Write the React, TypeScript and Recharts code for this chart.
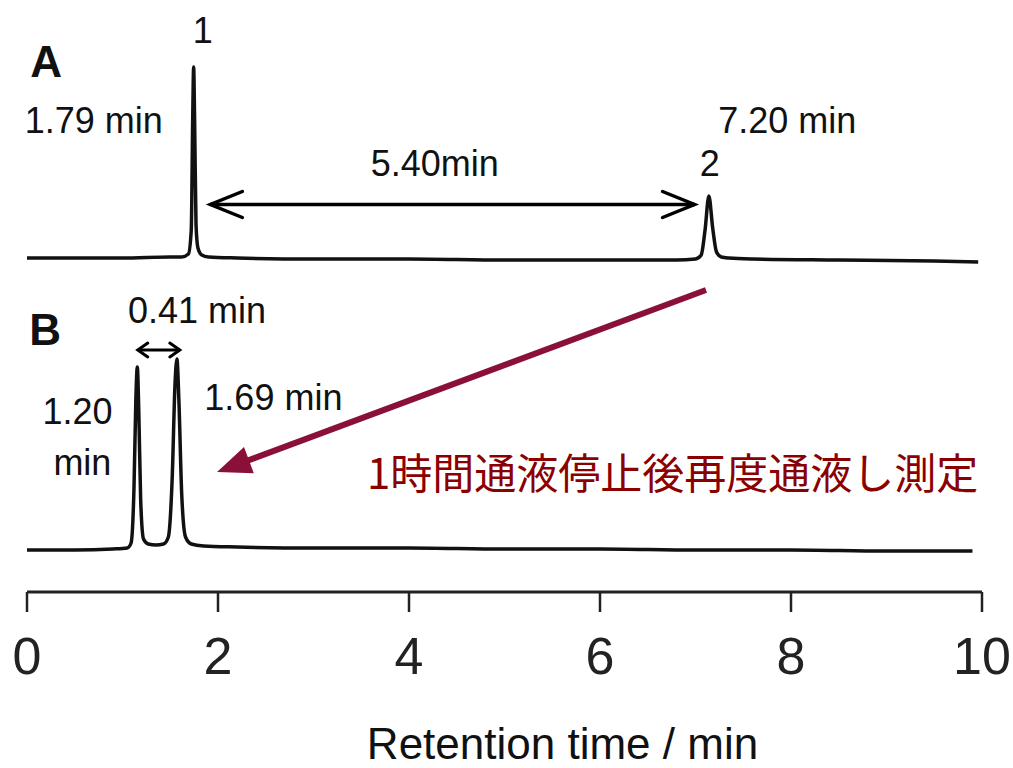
import { LineChart, Line, XAxis, YAxis, ReferenceLine, ReferenceDot, Label } from 'recharts';

// trace A (top chromatogram), signal above its own baseline
const timeA = [0, 0.5, 1.0, 1.5, 1.62, 1.69, 1.72, 1.735, 1.745, 1.755, 1.77, 1.79, 1.83, 1.9, 2.2, 3, 4, 5, 6, 6.8, 7.0, 7.06, 7.1, 7.14, 7.18, 7.22, 7.27, 7.35, 7.6, 8.5, 9.5, 9.96];
const signalA = [2, 2, 2, 3, 3, 6, 30, 140, 193, 140, 35, 12, 5, 3, 2, 1, 1, 0, 0, 0, 1, 5, 30, 64, 32, 8, 3, 2, 1, 0, -1, -2];

// trace B (bottom chromatogram)
const timeB = [0, 0.5, 0.9, 1.05, 1.09, 1.12, 1.14, 1.155, 1.17, 1.19, 1.22, 1.27, 1.35, 1.43, 1.48, 1.52, 1.55, 1.57, 1.59, 1.62, 1.66, 1.72, 1.85, 2.2, 3, 4, 5, 6, 7, 8, 9, 9.9];
const signalB = [-1, -1, 0, 1, 6, 60, 150, 182, 140, 50, 10, 5, 4, 5, 12, 70, 165, 190, 150, 55, 12, 5, 3, 2, 1, 1, 0, 0, -1, -1, -2, -2];

// vertical stacking of the two traces
const offsetA = 332;
const offsetB = 43;

const xTicks = [0, 2, 4, 6, 8, 10];

// annotations: [text, time, level, size, bold]
const notes: [string, number, number, number, boolean][] = [
  ['A', 0.2, 515, 44, true],
  ['1', 1.84, 549, 36, false],
  ['1.79 min', 0.7, 459, 36, false],
  ['5.40min', 4.27, 416, 36, false],
  ['7.20 min', 7.96, 459, 36, false],
  ['2', 7.15, 416, 36, false],
  ['B', 0.19, 247, 44, true],
  ['0.41 min', 1.78, 269, 36, false],
  ['1.20', 0.53, 168, 36, false],
  ['min', 0.58, 117, 36, false],
  ['1.69 min', 2.58, 182, 36, false],
];
const remark = '1時間通液停止後再度通液し測定';
const remarkPos = { t: 6.76, v: 103 };

// arrows: [fromTime, fromLevel, toTime, toLevel]
const gapArrowA = [1.92, 387.5, 6.99, 387.5];
const gapArrowB = [1.16, 242, 1.6, 242];
const moveArrow = [7.11, 302, 1.99, 120];

const dataA = timeA.map((t, i) => ({ t, v: signalA[i] + offsetA }));
const dataB = timeB.map((t, i) => ({ t, v: signalB[i] + offsetB }));

const FONT = "'Liberation Sans', Arial, sans-serif";

const doubleArrow = (head: number, spread: number, width: number) => (props: any) => {
  const { x1, y1, x2, y2 } = props;
  return (
    <g>
      <line x1={x1} y1={y1} x2={x2} y2={y2} stroke="#000" strokeWidth={width} />
      <polyline
        points={`${x1 + head},${y1 - spread} ${x1},${y1} ${x1 + head},${y1 + spread}`}
        fill="none" stroke="#000" strokeWidth={width} strokeLinecap="round"
      />
      <polyline
        points={`${x2 - head},${y2 - spread} ${x2},${y2} ${x2 - head},${y2 + spread}`}
        fill="none" stroke="#000" strokeWidth={width} strokeLinecap="round"
      />
    </g>
  );
};

const solidArrow = (props: any) => {
  const { x1, y1, x2, y2 } = props;
  const len = Math.hypot(x2 - x1, y2 - y1);
  const ux = (x2 - x1) / len;
  const uy = (y2 - y1) / len;
  const L = 34;
  const W = 14;
  const bx = x2 - ux * L;
  const by = y2 - uy * L;
  return (
    <g>
      <line x1={x1} y1={y1} x2={bx + ux * 2} y2={by + uy * 2} stroke="#8a1038" strokeWidth={6} />
      <polygon
        points={`${x2},${y2} ${bx - uy * W},${by + ux * W} ${bx + uy * W},${by - ux * W}`}
        fill="#8a1038"
      />
    </g>
  );
};

const textAt = (text: string, size: number, bold: boolean, fill = '#111', family = FONT) => (props: any) => {
  const vb = props.viewBox;
  return (
    <text x={vb.x + vb.width / 2} y={vb.y + vb.height / 2} textAnchor="middle" fontSize={size}
      fontWeight={bold ? 'bold' : 'normal'} fill={fill} fontFamily={family}>
      {text}
    </text>
  );
};

export default function App() {
  return (
    <div style={{ position: 'absolute', left: 0, top: 0, background: '#fff' }}>
      <LineChart width={1013} height={768} margin={{ top: 12, right: 31, left: 27, bottom: 0 }}>
        <XAxis
          type="number"
          dataKey="t"
          domain={[0, 10]}
          ticks={xTicks}
          interval={0}
          height={176}
          axisLine={{ stroke: '#222', strokeWidth: 3 }}
          tickLine={{ stroke: '#222', strokeWidth: 2.5 }}
          tickSize={20}
          tickMargin={25}
          tick={{ fontSize: 52, fill: '#222', fontFamily: FONT }}
        >
          <Label
            value="Retention  time  /  min"
            position="insideBottom"
            offset={9}
            dx={58}
            fontSize={44}
            fill="#111"
            fontFamily={FONT}
          />
        </XAxis>
        <YAxis type="number" domain={[0, 580]} hide />
        <Line data={dataA} dataKey="v" type="monotone" stroke="#111" strokeWidth={3.5} dot={false} isAnimationActive={false} />
        <Line data={dataB} dataKey="v" type="monotone" stroke="#111" strokeWidth={3.5} dot={false} isAnimationActive={false} />
        <ReferenceLine
          segment={[{ x: gapArrowA[0], y: gapArrowA[1] }, { x: gapArrowA[2], y: gapArrowA[3] }]}
          shape={doubleArrow(32, 13, 3.5)}
        />
        <ReferenceLine
          segment={[{ x: gapArrowB[0], y: gapArrowB[1] }, { x: gapArrowB[2], y: gapArrowB[3] }]}
          shape={doubleArrow(10, 7, 3)}
        />
        <ReferenceLine
          segment={[{ x: moveArrow[0], y: moveArrow[1] }, { x: moveArrow[2], y: moveArrow[3] }]}
          shape={solidArrow}
        />
        {notes.map(([text, t, v, size, bold]) => (
          <ReferenceDot key={text + t} x={t} y={v} r={0} stroke="none" fill="none"
            label={{ content: textAt(text, size, bold) }} />
        ))}
        <ReferenceDot x={remarkPos.t} y={remarkPos.v} r={0} stroke="none" fill="none"
          label={{ content: textAt(remark, 42, false, '#8b0000', "'Noto Sans CJK JP', sans-serif") }} />
      </LineChart>
    </div>
  );
}
